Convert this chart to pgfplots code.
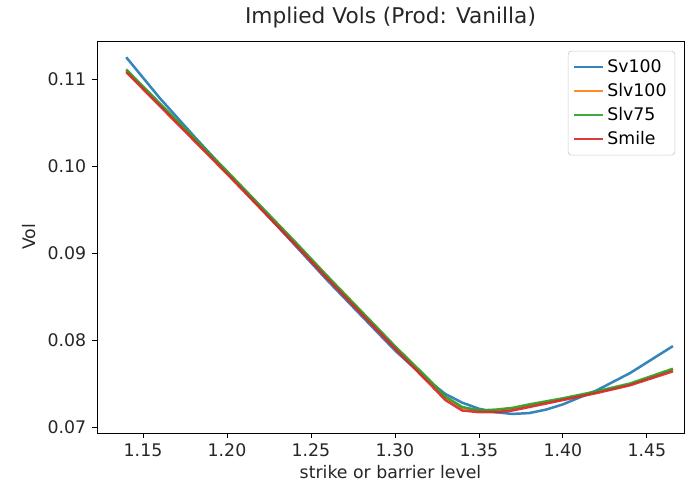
\documentclass[border=0pt]{standalone}
\usepackage{pgfplots}
\pgfplotsset{compat=1.18}
\usepackage{fontspec}
\setmainfont{DejaVu Sans}
\definecolor{mplblue}{HTML}{1F77B4}
\definecolor{mplorange}{HTML}{FF7F0E}
\definecolor{mplgreen}{HTML}{2CA02C}
\definecolor{mplred}{HTML}{D62728}
\begin{document}
\begin{tikzpicture}
\begin{axis}[
  at={(0,0)}, anchor=south west,
  scale only axis,
  width=352.2pt, height=235.2pt,
  xmin=1.1226, xmax=1.4721,
  ymin=0.06931, ymax=0.11437,
  xtick={1.15,1.20,1.25,1.30,1.35,1.40,1.45},
  ytick={0.07,0.08,0.09,0.10,0.11},
  xticklabel style={/pgf/number format/.cd,fixed,fixed zerofill,precision=2},
  yticklabel style={/pgf/number format/.cd,fixed,fixed zerofill,precision=2},
  /pgf/number format/assume math mode=true,
  scaled ticks=false,
  tick align=outside,
  tick pos=left,
  major tick length=3pt,
  tick style={black, line width=0.5pt},
  axis line style={line width=0.5pt},
  ticklabel style={font=\fontsize{10.4}{12}\selectfont, color=black!85},
  title={Implied Vols (Prod: Vanilla)},
  title style={font=\fontsize{13}{15}\selectfont, color=black!85, yshift=-2pt},
  xlabel={strike or barrier level},
  ylabel={Vol},
  label style={font=\fontsize{10.4}{12}\selectfont, color=black!85},
  xlabel style={yshift=2pt},
  legend style={font=\fontsize{10.4}{12}\selectfont, draw=black!20, rounded corners=2pt, at={(0.985,0.975)}, anchor=north east, row sep=1pt, inner sep=3pt},
  legend cell align=left,
  legend image post style={line width=1.5pt},
  every axis plot/.append style={line width=1.5pt, no marks, opacity=0.9},
]
\addplot[mplblue] coordinates {
(1.14,0.1125) (1.16,0.1078) (1.18,0.1035) (1.20,0.0993) (1.22,0.0952)
(1.24,0.0910) (1.26,0.0868) (1.28,0.0828) (1.30,0.0788) (1.32,0.0753)
(1.33,0.0738) (1.34,0.0728) (1.35,0.0721) (1.36,0.0717) (1.37,0.0715)
(1.38,0.0716) (1.39,0.0720) (1.40,0.0726) (1.42,0.0742) (1.44,0.0762)
(1.4655,0.0793)
};
\addlegendentry{Sv100}
\addplot[mplorange] coordinates {
(1.14,0.1110) (1.16,0.1071) (1.18,0.1032) (1.20,0.0993) (1.22,0.0953)
(1.24,0.0913) (1.26,0.0872) (1.28,0.0832) (1.30,0.0792) (1.32,0.0754)
(1.33,0.0734) (1.34,0.0722) (1.35,0.0719) (1.36,0.0719) (1.37,0.0721)
(1.38,0.0725) (1.40,0.0732) (1.42,0.0740) (1.44,0.0749) (1.4655,0.0766)
};
\addlegendentry{Slv100}
\addplot[mplgreen] coordinates {
(1.14,0.1111) (1.16,0.1072) (1.18,0.1033) (1.20,0.0994) (1.22,0.0954)
(1.24,0.0914) (1.26,0.0873) (1.28,0.0833) (1.30,0.0793) (1.32,0.0755)
(1.33,0.0735) (1.34,0.0723) (1.35,0.0719) (1.36,0.0720) (1.37,0.0722)
(1.38,0.0726) (1.40,0.0733) (1.42,0.0741) (1.44,0.0750) (1.4655,0.0767)
};
\addlegendentry{Slv75}
\addplot[mplred] coordinates {
(1.14,0.1108) (1.16,0.1069) (1.18,0.1030) (1.20,0.0991) (1.22,0.0951)
(1.24,0.0911) (1.26,0.0870) (1.28,0.0830) (1.30,0.0790) (1.32,0.0751)
(1.33,0.0731) (1.34,0.0719) (1.35,0.0717) (1.36,0.0717) (1.37,0.0719)
(1.38,0.0723) (1.40,0.0731) (1.42,0.0739) (1.44,0.0748) (1.4655,0.0764)
};
\addlegendentry{Smile}
\end{axis}
\pgfresetboundingbox
\path[use as bounding box] (-58.2pt,-33.6pt) rectangle (354pt,259.8pt);
\end{tikzpicture}
\end{document}
